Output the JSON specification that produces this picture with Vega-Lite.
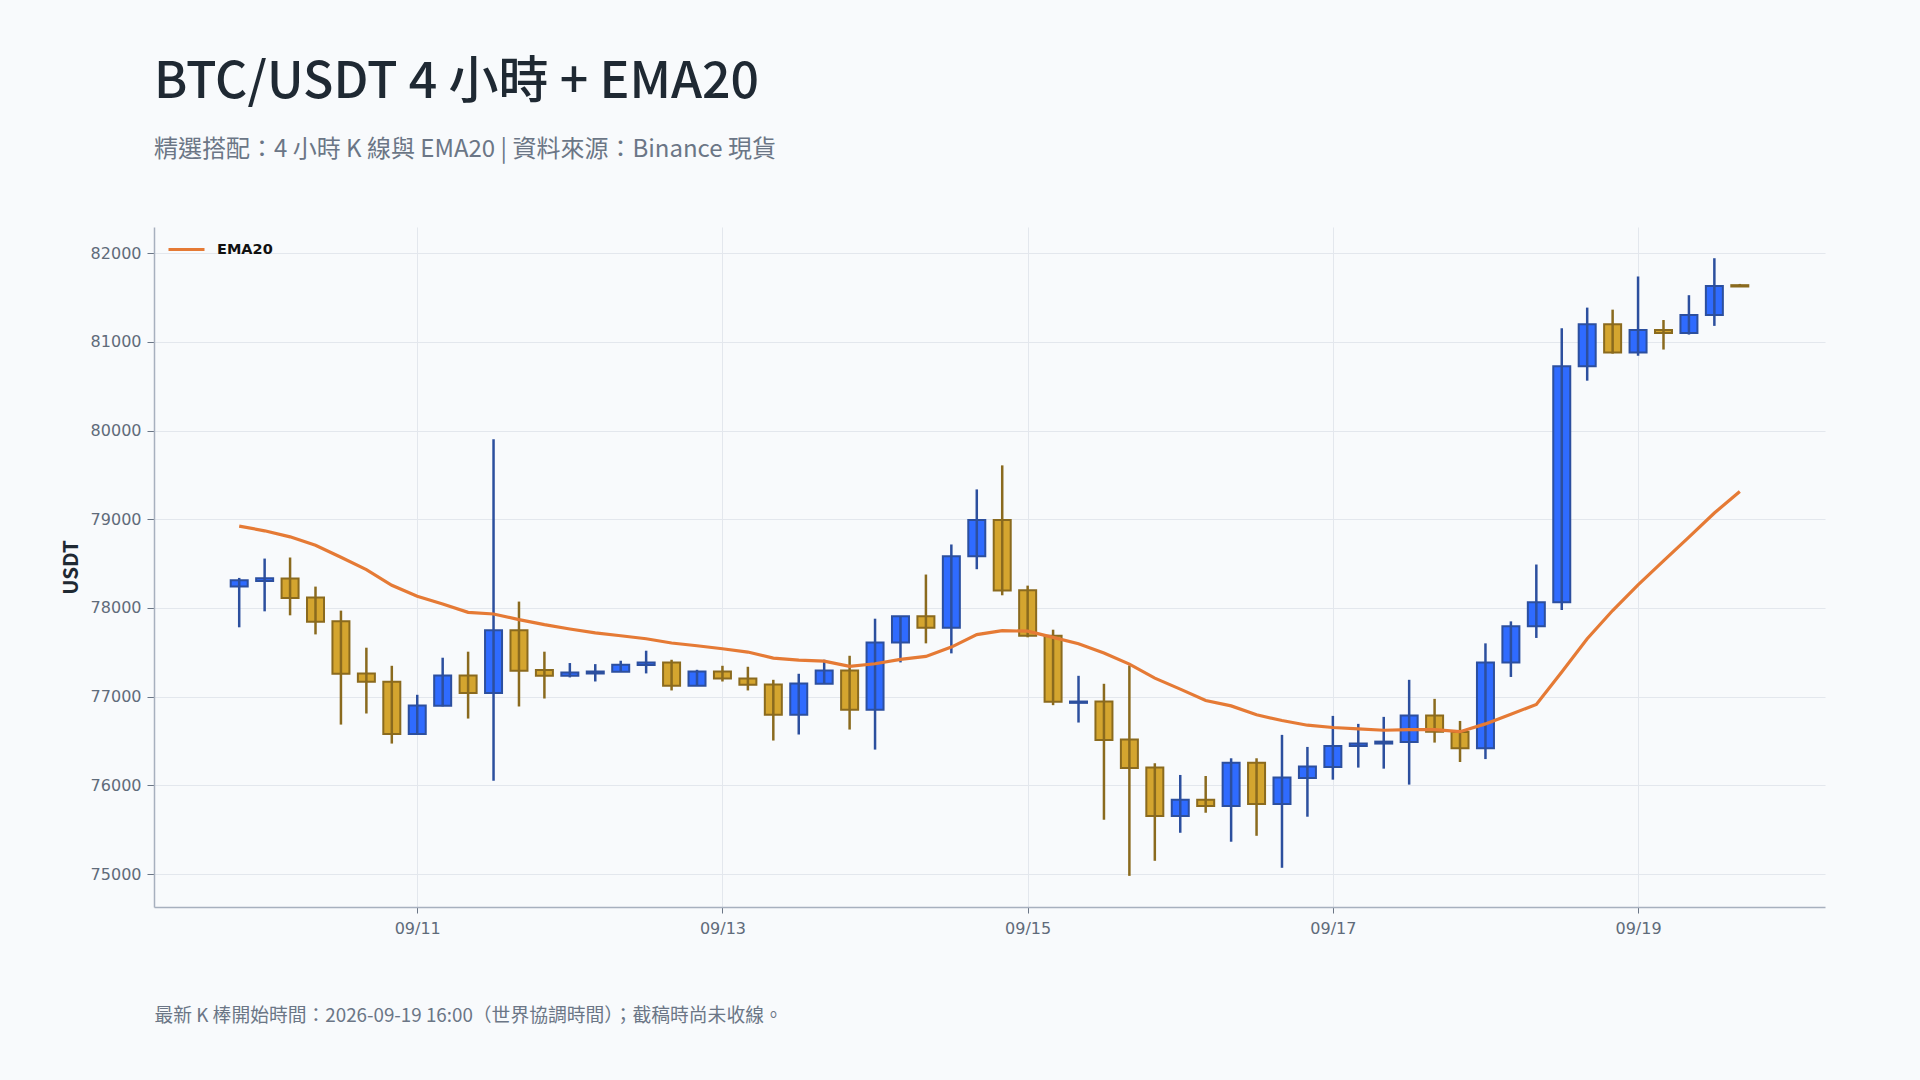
{
  "$schema": "https://vega.github.io/schema/vega-lite/v6.json",
  "width": 1671,
  "height": 680,
  "autosize": {"type": "none"},
  "padding": {"left": 154, "top": 227, "right": 95, "bottom": 173},
  "background": "#f8fafc",
  "title": {
    "text": "BTC/USDT 4 小時 + EMA20",
    "subtitle": "精選搭配：4 小時 K 線與 EMA20 | 資料來源：Binance 現貨",
    "anchor": "start",
    "frame": "group",
    "font": "Noto Sans CJK TC",
    "fontSize": 50,
    "fontWeight": 500,
    "color": "#1f2933",
    "subtitleFont": "Noto Sans CJK TC",
    "subtitleFontSize": 24,
    "subtitleColor": "#6b7686",
    "subtitlePadding": 30,
    "offset": 65
  },
  "data": {
    "values": [
      {"t": "2026-09-09T20:00:00Z", "o": 78241, "h": 78339, "l": 77782, "c": 78313, "ema": 78923},
      {"t": "2026-09-10T00:00:00Z", "o": 78305, "h": 78557, "l": 77962, "c": 78335, "ema": 78870},
      {"t": "2026-09-10T04:00:00Z", "o": 78331, "h": 78569, "l": 77917, "c": 78113, "ema": 78802},
      {"t": "2026-09-10T08:00:00Z", "o": 78117, "h": 78241, "l": 77702, "c": 77846, "ema": 78708},
      {"t": "2026-09-10T12:00:00Z", "o": 77849, "h": 77970, "l": 76685, "c": 77258, "ema": 78572},
      {"t": "2026-09-10T16:00:00Z", "o": 77262, "h": 77552, "l": 76810, "c": 77168, "ema": 78433},
      {"t": "2026-09-10T20:00:00Z", "o": 77168, "h": 77348, "l": 76471, "c": 76580, "ema": 78256},
      {"t": "2026-09-11T00:00:00Z", "o": 76580, "h": 77021, "l": 76575, "c": 76900, "ema": 78132},
      {"t": "2026-09-11T04:00:00Z", "o": 76896, "h": 77439, "l": 76890, "c": 77239, "ema": 78045},
      {"t": "2026-09-11T08:00:00Z", "o": 77239, "h": 77507, "l": 76753, "c": 77040, "ema": 77951},
      {"t": "2026-09-11T12:00:00Z", "o": 77040, "h": 79902, "l": 76053, "c": 77748, "ema": 77932},
      {"t": "2026-09-11T16:00:00Z", "o": 77748, "h": 78072, "l": 76889, "c": 77292, "ema": 77868},
      {"t": "2026-09-11T20:00:00Z", "o": 77300, "h": 77507, "l": 76979, "c": 77235, "ema": 77812},
      {"t": "2026-09-12T00:00:00Z", "o": 77235, "h": 77379, "l": 77217, "c": 77273, "ema": 77763},
      {"t": "2026-09-12T04:00:00Z", "o": 77262, "h": 77367, "l": 77171, "c": 77285, "ema": 77720},
      {"t": "2026-09-12T08:00:00Z", "o": 77281, "h": 77405, "l": 77281, "c": 77360, "ema": 77687},
      {"t": "2026-09-12T12:00:00Z", "o": 77356, "h": 77518, "l": 77262, "c": 77386, "ema": 77653},
      {"t": "2026-09-12T16:00:00Z", "o": 77386, "h": 77416, "l": 77070, "c": 77122, "ema": 77605},
      {"t": "2026-09-12T20:00:00Z", "o": 77122, "h": 77303, "l": 77122, "c": 77284, "ema": 77574},
      {"t": "2026-09-13T00:00:00Z", "o": 77284, "h": 77348, "l": 77171, "c": 77205, "ema": 77540},
      {"t": "2026-09-13T04:00:00Z", "o": 77205, "h": 77337, "l": 77070, "c": 77134, "ema": 77503},
      {"t": "2026-09-13T08:00:00Z", "o": 77137, "h": 77190, "l": 76505, "c": 76795, "ema": 77435},
      {"t": "2026-09-13T12:00:00Z", "o": 76795, "h": 77258, "l": 76573, "c": 77149, "ema": 77412},
      {"t": "2026-09-13T16:00:00Z", "o": 77145, "h": 77416, "l": 77145, "c": 77296, "ema": 77401},
      {"t": "2026-09-13T20:00:00Z", "o": 77296, "h": 77461, "l": 76629, "c": 76851, "ema": 77341},
      {"t": "2026-09-14T00:00:00Z", "o": 76851, "h": 77879, "l": 76403, "c": 77612, "ema": 77371},
      {"t": "2026-09-14T04:00:00Z", "o": 77612, "h": 77906, "l": 77386, "c": 77906, "ema": 77420},
      {"t": "2026-09-14T08:00:00Z", "o": 77906, "h": 78377, "l": 77601, "c": 77778, "ema": 77454},
      {"t": "2026-09-14T12:00:00Z", "o": 77778, "h": 78716, "l": 77488, "c": 78584, "ema": 77559},
      {"t": "2026-09-14T16:00:00Z", "o": 78584, "h": 79337, "l": 78437, "c": 78991, "ema": 77699},
      {"t": "2026-09-14T20:00:00Z", "o": 78991, "h": 79608, "l": 78143, "c": 78196, "ema": 77744},
      {"t": "2026-09-15T00:00:00Z", "o": 78200, "h": 78252, "l": 77669, "c": 77686, "ema": 77738},
      {"t": "2026-09-15T04:00:00Z", "o": 77687, "h": 77755, "l": 76904, "c": 76942, "ema": 77669},
      {"t": "2026-09-15T08:00:00Z", "o": 76930, "h": 77235, "l": 76708, "c": 76945, "ema": 77597},
      {"t": "2026-09-15T12:00:00Z", "o": 76945, "h": 77145, "l": 75612, "c": 76512, "ema": 77492},
      {"t": "2026-09-15T16:00:00Z", "o": 76516, "h": 77352, "l": 74979, "c": 76196, "ema": 77367},
      {"t": "2026-09-15T20:00:00Z", "o": 76200, "h": 76249, "l": 75149, "c": 75653, "ema": 77209},
      {"t": "2026-09-16T00:00:00Z", "o": 75653, "h": 76117, "l": 75465, "c": 75838, "ema": 77085},
      {"t": "2026-09-16T04:00:00Z", "o": 75838, "h": 76105, "l": 75691, "c": 75766, "ema": 76957},
      {"t": "2026-09-16T08:00:00Z", "o": 75766, "h": 76305, "l": 75364, "c": 76256, "ema": 76896},
      {"t": "2026-09-16T12:00:00Z", "o": 76256, "h": 76305, "l": 75431, "c": 75789, "ema": 76795},
      {"t": "2026-09-16T16:00:00Z", "o": 75789, "h": 76569, "l": 75070, "c": 76087, "ema": 76731},
      {"t": "2026-09-16T20:00:00Z", "o": 76083, "h": 76433, "l": 75646, "c": 76211, "ema": 76678},
      {"t": "2026-09-17T00:00:00Z", "o": 76207, "h": 76783, "l": 76064, "c": 76444, "ema": 76652},
      {"t": "2026-09-17T04:00:00Z", "o": 76444, "h": 76693, "l": 76200, "c": 76471, "ema": 76637},
      {"t": "2026-09-17T08:00:00Z", "o": 76471, "h": 76772, "l": 76188, "c": 76493, "ema": 76621},
      {"t": "2026-09-17T12:00:00Z", "o": 76490, "h": 77190, "l": 76008, "c": 76787, "ema": 76628},
      {"t": "2026-09-17T16:00:00Z", "o": 76787, "h": 76975, "l": 76482, "c": 76603, "ema": 76628},
      {"t": "2026-09-17T20:00:00Z", "o": 76600, "h": 76726, "l": 76263, "c": 76417, "ema": 76605},
      {"t": "2026-09-18T00:00:00Z", "o": 76417, "h": 77601, "l": 76296, "c": 77386, "ema": 76693},
      {"t": "2026-09-18T04:00:00Z", "o": 77386, "h": 77849, "l": 77222, "c": 77793, "ema": 76801},
      {"t": "2026-09-18T08:00:00Z", "o": 77793, "h": 78490, "l": 77662, "c": 78065, "ema": 76913},
      {"t": "2026-09-18T12:00:00Z", "o": 78065, "h": 81153, "l": 77976, "c": 80727, "ema": 77278},
      {"t": "2026-09-18T16:00:00Z", "o": 80727, "h": 81387, "l": 80563, "c": 81200, "ema": 77653},
      {"t": "2026-09-18T20:00:00Z", "o": 81200, "h": 81364, "l": 80868, "c": 80882, "ema": 77971},
      {"t": "2026-09-19T00:00:00Z", "o": 80882, "h": 81738, "l": 80844, "c": 81134, "ema": 78261},
      {"t": "2026-09-19T04:00:00Z", "o": 81134, "h": 81247, "l": 80914, "c": 81102, "ema": 78532},
      {"t": "2026-09-19T08:00:00Z", "o": 81102, "h": 81527, "l": 81083, "c": 81303, "ema": 78799},
      {"t": "2026-09-19T12:00:00Z", "o": 81303, "h": 81944, "l": 81181, "c": 81630, "ema": 79071},
      {"t": "2026-09-19T16:00:00Z", "o": 81640, "h": 81654, "l": 81620, "c": 81625, "ema": 79314}
    ]
  },
  "encoding": {
    "x": {
      "field": "t",
      "type": "temporal",
      "scale": {
        "type": "utc",
        "padding": 0,
        "domain": [
          {"year": 2026, "month": 9, "date": 9, "hours": 6, "minutes": 36, "utc": true},
          {"year": 2026, "month": 9, "date": 20, "hours": 5, "minutes": 24, "utc": true}
        ]
      },
      "axis": {
        "values": [
          {"year": 2026, "month": 9, "date": 11, "utc": true},
          {"year": 2026, "month": 9, "date": 13, "utc": true},
          {"year": 2026, "month": 9, "date": 15, "utc": true},
          {"year": 2026, "month": 9, "date": 17, "utc": true},
          {"year": 2026, "month": 9, "date": 19, "utc": true}
        ],
        "labelExpr": "utcFormat(datum.value, '%m/%d')",
        "title": "最新 K 棒開始時間：2026-09-19 16:00（世界協調時間）；截稿時尚未收線。",
        "titleAnchor": "start",
        "titleAlign": "left",
        "titleFont": "Noto Sans CJK TC",
        "titleFontSize": 18.8,
        "titleFontWeight": "normal",
        "titleColor": "#6b7686",
        "titlePadding": 70,
        "labelFont": "DejaVu Sans",
        "labelFontSize": 16,
        "labelColor": "#5f6b7a",
        "labelPadding": 7,
        "tickSize": 6,
        "grid": true
      }
    }
  },
  "layer": [
    {
      "mark": {"type": "bar", "width": 17, "strokeWidth": 2},
      "encoding": {
        "y": {
          "field": "o",
          "type": "quantitative",
          "scale": {"domain": [74628, 82296], "nice": false, "zero": false, "padding": 0},
          "axis": {
            "values": [75000, 76000, 77000, 78000, 79000, 80000, 81000, 82000],
            "format": "d",
            "title": "USDT",
            "titleFont": "Noto Sans CJK TC",
            "titleFontSize": 20.5,
            "titleFontWeight": "bold",
            "titleColor": "#1f2933",
            "titlePadding": 9,
            "labelFont": "DejaVu Sans",
            "labelFontSize": 16,
            "labelColor": "#5f6b7a",
            "labelPadding": 6,
            "tickSize": 7,
            "grid": true
          }
        },
        "y2": {"field": "c"},
        "fill": {"condition": {"test": "datum.c >= datum.o", "value": "#2f6bff"}, "value": "#d4a52f"},
        "stroke": {"condition": {"test": "datum.c >= datum.o", "value": "#2c4f9e"}, "value": "#8a6a1e"}
      }
    },
    {
      "mark": {"type": "rule", "strokeWidth": 2.5},
      "encoding": {
        "y": {"field": "l", "type": "quantitative"},
        "y2": {"field": "h"},
        "color": {"condition": {"test": "datum.c >= datum.o", "value": "#2c4f9e"}, "value": "#8a6a1e"}
      }
    },
    {
      "mark": {"type": "line", "strokeWidth": 3.2},
      "encoding": {
        "y": {"field": "ema", "type": "quantitative"},
        "color": {
          "datum": "EMA20",
          "type": "nominal",
          "scale": {"range": ["#e57a35"]},
          "legend": {
            "title": null,
            "orient": "none",
            "legendX": 13,
            "legendY": 3,
            "symbolType": "stroke",
            "symbolSize": 1296,
            "symbolStrokeWidth": 3,
            "labelFont": "DejaVu Sans",
            "labelFontSize": 14.5,
            "labelFontWeight": "bold",
            "labelColor": "#111111",
            "labelOffset": 11,
            "padding": 0
          }
        }
      }
    }
  ],
  "config": {
    "view": {"stroke": null},
    "scale": {"continuousPadding": 0},
    "axis": {
      "gridColor": "#e3e7ed",
      "gridWidth": 1,
      "domainColor": "#a7b0be",
      "domainWidth": 1.5,
      "tickColor": "#6b7686",
      "tickWidth": 1
    }
  }
}
